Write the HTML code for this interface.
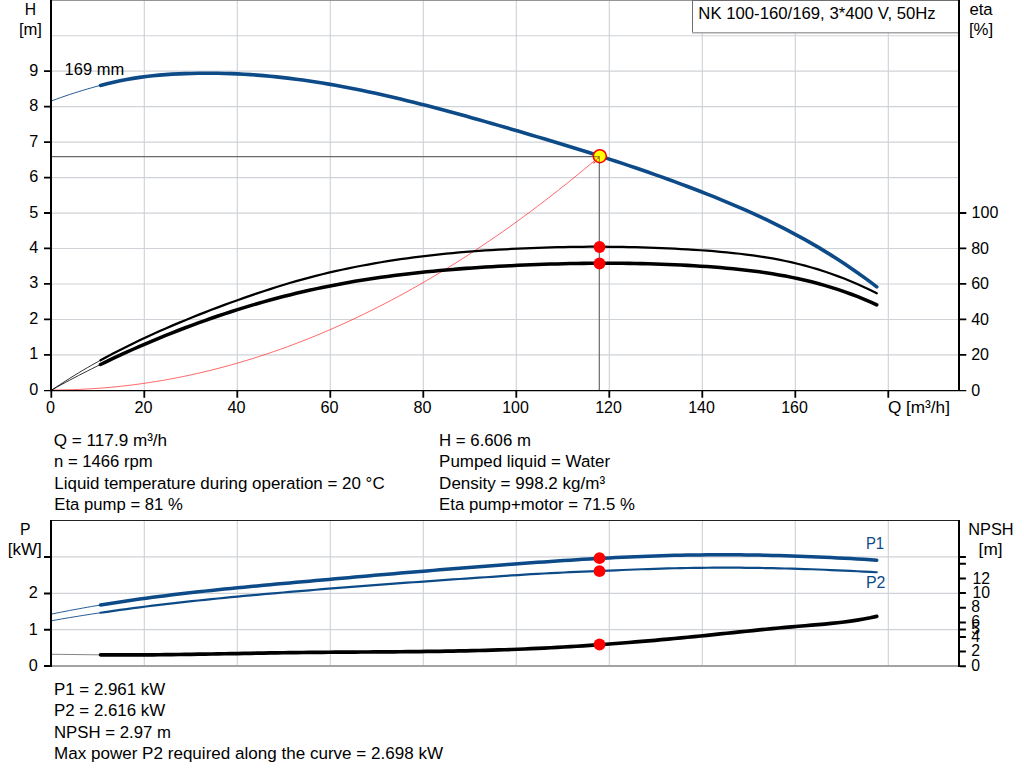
<!DOCTYPE html>
<html><head><meta charset="utf-8"><title>Pump curve</title>
<style>html,body{margin:0;padding:0;background:#fff;overflow:hidden}svg{display:block}text{white-space:pre;font-family:"Liberation Sans",sans-serif}</style></head>
<body>
<svg width="1024" height="781" viewBox="0 0 1024 781" font-family="Liberation Sans, sans-serif" font-size="17px" fill="#000">
<rect width="1024" height="781" fill="#fff"/>
<path d="M144.30,0V390 M237.30,0V390 M330.30,0V390 M423.30,0V390 M516.30,0V390 M609.30,0V390 M702.30,0V390 M795.30,0V390 M888.30,0V390 M52,354.93H959 M52,319.46H959 M52,283.99H959 M52,248.52H959 M52,213.05H959 M52,177.58H959 M52,142.11H959 M52,106.64H959 M52,71.17H959 M52,35.70H959" stroke="#cfd2d6" stroke-width="1.15" fill="none"/>
<path d="M52,156.6H599.3V390" stroke="#6a6a6a" stroke-width="1.2" fill="none"/>
<path d="M51.50,390.00 L58.44,389.96 L65.38,389.85 L72.32,389.66 L79.26,389.40 L86.20,389.06 L93.14,388.65 L100.08,388.16 L107.02,387.60 L113.96,386.97 L120.90,386.25 L127.84,385.47 L134.78,384.61 L141.72,383.67 L148.66,382.66 L155.60,381.57 L162.54,380.41 L169.48,379.18 L176.42,377.86 L183.36,376.48 L190.30,375.02 L197.24,373.48 L204.18,371.87 L211.12,370.19 L218.06,368.43 L225.00,366.59 L231.94,364.68 L238.88,362.70 L245.82,360.64 L252.76,358.50 L259.70,356.29 L266.64,354.01 L273.58,351.65 L280.52,349.21 L287.46,346.70 L294.40,344.12 L301.34,341.46 L308.28,338.73 L315.22,335.92 L322.16,333.03 L329.09,330.07 L336.03,327.04 L342.97,323.93 L349.91,320.75 L356.85,317.49 L363.79,314.16 L370.73,310.75 L377.67,307.26 L384.61,303.71 L391.55,300.07 L398.49,296.37 L405.43,292.58 L412.37,288.72 L419.31,284.79 L426.25,280.78 L433.19,276.70 L440.13,272.54 L447.07,268.31 L454.01,264.00 L460.95,259.62 L467.89,255.17 L474.83,250.63 L481.77,246.03 L488.71,241.35 L495.65,236.59 L502.59,231.76 L509.53,226.85 L516.47,221.87 L523.41,216.81 L530.35,211.68 L537.29,206.48 L544.23,201.19 L551.17,195.84 L558.11,190.41 L565.05,184.90 L571.99,179.32 L578.93,173.67 L585.87,167.94 L592.81,162.13 L599.75,156.25" stroke="#ff2020" stroke-width="0.8" fill="none" opacity="0.85"/>
<path d="M52.00,389.94 L56.41,386.96 L60.82,384.05 L65.23,381.19 L69.64,378.39 L74.05,375.64 L78.45,372.95 L82.86,370.31 L87.27,367.73 L91.68,365.19 L96.09,362.70 L100.50,360.25" stroke="#000" stroke-width="0.8" fill="none"/>
<path d="M100.50,360.25 L107.02,356.72 L113.55,353.28 L120.07,349.92 L126.59,346.65 L133.12,343.45 L139.64,340.32 L146.16,337.27 L152.68,334.27 L159.21,331.34 L165.73,328.46 L172.25,325.64 L178.78,322.88 L185.30,320.17 L191.82,317.51 L198.35,314.90 L204.87,312.34 L211.39,309.82 L217.92,307.35 L224.44,304.92 L230.96,302.54 L237.49,300.19 L244.01,297.88 L250.53,295.61 L257.05,293.39 L263.58,291.21 L270.10,289.08 L276.62,287.01 L283.15,285.00 L289.67,283.04 L296.19,281.15 L302.72,279.33 L309.24,277.57 L315.76,275.88 L322.29,274.25 L328.81,272.69 L335.33,271.18 L341.86,269.74 L348.38,268.35 L354.90,267.02 L361.42,265.75 L367.95,264.53 L374.47,263.36 L380.99,262.25 L387.52,261.19 L394.04,260.17 L400.56,259.21 L407.09,258.29 L413.61,257.42 L420.13,256.59 L426.66,255.81 L433.18,255.06 L439.70,254.36 L446.22,253.70 L452.75,253.07 L459.27,252.48 L465.79,251.93 L472.32,251.41 L478.84,250.92 L485.36,250.46 L491.89,250.04 L498.41,249.64 L504.93,249.27 L511.46,248.93 L517.98,248.61 L524.50,248.31 L531.03,248.04 L537.55,247.80 L544.07,247.58 L550.59,247.38 L557.12,247.21 L563.64,247.06 L570.16,246.94 L576.69,246.85 L583.21,246.78 L589.73,246.74 L596.26,246.72 L602.78,246.73 L609.30,246.77 L615.83,246.83 L622.35,246.92 L628.87,247.04 L635.39,247.19 L641.92,247.36 L648.44,247.57 L654.96,247.80 L661.49,248.06 L668.01,248.35 L674.53,248.67 L681.06,249.02 L687.58,249.40 L694.10,249.81 L700.63,250.25 L707.15,250.72 L713.67,251.23 L720.20,251.78 L726.72,252.38 L733.24,253.03 L739.76,253.75 L746.29,254.53 L752.81,255.39 L759.33,256.33 L765.86,257.35 L772.38,258.47 L778.90,259.69 L785.43,261.02 L791.95,262.45 L798.47,264.01 L805.00,265.69 L811.52,267.50 L818.04,269.43 L824.57,271.51 L831.09,273.72 L837.61,276.07 L844.13,278.57 L850.66,281.21 L857.18,284.01 L863.70,286.96 L870.23,290.07 L876.75,293.34" stroke="#000" stroke-width="2.25" fill="none" stroke-linecap="round"/>
<path d="M52.00,389.77 L56.41,387.34 L60.82,384.93 L65.23,382.56 L69.64,380.20 L74.05,377.88 L78.45,375.58 L82.86,373.31 L87.27,371.06 L91.68,368.84 L96.09,366.65 L100.50,364.48" stroke="#000" stroke-width="0.8" fill="none"/>
<path d="M100.50,364.48 L107.02,361.32 L113.55,358.22 L120.07,355.17 L126.59,352.18 L133.12,349.25 L139.64,346.37 L146.16,343.54 L152.68,340.77 L159.21,338.06 L165.73,335.39 L172.25,332.79 L178.78,330.23 L185.30,327.73 L191.82,325.29 L198.35,322.90 L204.87,320.56 L211.39,318.27 L217.92,316.03 L224.44,313.85 L230.96,311.72 L237.49,309.64 L244.01,307.61 L250.53,305.64 L257.05,303.71 L263.58,301.85 L270.10,300.03 L276.62,298.27 L283.15,296.56 L289.67,294.91 L296.19,293.32 L302.72,291.78 L309.24,290.29 L315.76,288.86 L322.29,287.49 L328.81,286.17 L335.33,284.89 L341.86,283.67 L348.38,282.50 L354.90,281.37 L361.42,280.29 L367.95,279.25 L374.47,278.26 L380.99,277.32 L387.52,276.41 L394.04,275.54 L400.56,274.72 L407.09,273.93 L413.61,273.18 L420.13,272.47 L426.66,271.79 L433.18,271.15 L439.70,270.53 L446.22,269.95 L452.75,269.41 L459.27,268.89 L465.79,268.39 L472.32,267.93 L478.84,267.49 L485.36,267.08 L491.89,266.69 L498.41,266.32 L504.93,265.97 L511.46,265.65 L517.98,265.34 L524.50,265.05 L531.03,264.79 L537.55,264.54 L544.07,264.31 L550.59,264.10 L557.12,263.91 L563.64,263.74 L570.16,263.60 L576.69,263.48 L583.21,263.38 L589.73,263.31 L596.26,263.26 L602.78,263.23 L609.30,263.23 L615.83,263.25 L622.35,263.31 L628.87,263.38 L635.39,263.49 L641.92,263.62 L648.44,263.78 L654.96,263.97 L661.49,264.19 L668.01,264.44 L674.53,264.72 L681.06,265.03 L687.58,265.37 L694.10,265.75 L700.63,266.15 L707.15,266.59 L713.67,267.07 L720.20,267.59 L726.72,268.15 L733.24,268.77 L739.76,269.43 L746.29,270.17 L752.81,270.96 L759.33,271.83 L765.86,272.77 L772.38,273.79 L778.90,274.89 L785.43,276.08 L791.95,277.37 L798.47,278.76 L805.00,280.25 L811.52,281.84 L818.04,283.55 L824.57,285.38 L831.09,287.33 L837.61,289.41 L844.13,291.62 L850.66,293.97 L857.18,296.46 L863.70,299.10 L870.23,301.88 L876.75,304.83" stroke="#000" stroke-width="3.55" fill="none" stroke-linecap="round"/>
<path d="M51.75,100.80 L56.18,99.19 L60.61,97.61 L65.05,96.08 L69.48,94.59 L73.91,93.14 L78.34,91.73 L82.77,90.37 L87.20,89.05 L91.64,87.78 L96.07,86.55 L100.50,85.38" stroke="#0d4a88" stroke-width="0.9" fill="none"/>
<path d="M100.50,85.38 L107.02,83.74 L113.55,82.22 L120.07,80.82 L126.59,79.54 L133.12,78.39 L139.64,77.37 L146.16,76.48 L152.68,75.73 L159.21,75.10 L165.73,74.59 L172.25,74.17 L178.78,73.85 L185.30,73.60 L191.82,73.43 L198.35,73.31 L204.87,73.25 L211.39,73.25 L217.92,73.32 L224.44,73.45 L230.96,73.65 L237.49,73.91 L244.01,74.24 L250.53,74.64 L257.05,75.11 L263.58,75.64 L270.10,76.23 L276.62,76.89 L283.15,77.60 L289.67,78.37 L296.19,79.20 L302.72,80.09 L309.24,81.03 L315.76,82.02 L322.29,83.06 L328.81,84.15 L335.33,85.30 L341.86,86.48 L348.38,87.72 L354.90,89.00 L361.42,90.32 L367.95,91.68 L374.47,93.08 L380.99,94.52 L387.52,96.00 L394.04,97.51 L400.56,99.06 L407.09,100.64 L413.61,102.25 L420.13,103.89 L426.66,105.56 L433.18,107.25 L439.70,108.98 L446.22,110.72 L452.75,112.49 L459.27,114.28 L465.79,116.08 L472.32,117.91 L478.84,119.75 L485.36,121.61 L491.89,123.48 L498.41,125.37 L504.93,127.26 L511.46,129.17 L517.98,131.08 L524.50,133.00 L531.03,134.93 L537.55,136.87 L544.07,138.82 L550.59,140.78 L557.12,142.75 L563.64,144.74 L570.16,146.74 L576.69,148.76 L583.21,150.79 L589.73,152.84 L596.26,154.91 L602.78,157.01 L609.30,159.12 L615.83,161.25 L622.35,163.41 L628.87,165.60 L635.39,167.80 L641.92,170.04 L648.44,172.30 L654.96,174.60 L661.49,176.92 L668.01,179.27 L674.53,181.66 L681.06,184.07 L687.58,186.53 L694.10,189.01 L700.63,191.54 L707.15,194.10 L713.67,196.70 L720.20,199.35 L726.72,202.05 L733.24,204.80 L739.76,207.60 L746.29,210.47 L752.81,213.40 L759.33,216.40 L765.86,219.47 L772.38,222.63 L778.90,225.86 L785.43,229.18 L791.95,232.58 L798.47,236.08 L805.00,239.68 L811.52,243.38 L818.04,247.18 L824.57,251.10 L831.09,255.13 L837.61,259.27 L844.13,263.54 L850.66,267.93 L857.18,272.46 L863.70,277.11 L870.23,281.91 L876.75,286.85" stroke="#0d4a88" stroke-width="3.6" fill="none" stroke-linecap="round"/>
<rect x="692" y="0" width="267" height="33" fill="#fff"/>
<path d="M692.5,0V33.3" stroke="#707070" stroke-width="1" shape-rendering="crispEdges"/>
<path d="M692,32.8H959" stroke="#a4a4a4" stroke-width="1.5"/>
<path d="M51,0.4H960" stroke="#8a8a8a" stroke-width="1"/>
<path d="M692,0.4H960" stroke="#6a6a6a" stroke-width="1"/>
<path d="M51,0V391 M959,0V391" stroke="#000" stroke-width="2" fill="none" shape-rendering="crispEdges"/>
<path d="M44,390.55H966.3" stroke="#000" stroke-width="1.35" fill="none"/>
<path d="M44,354.88H51 M44,319.41H51 M44,283.94H51 M44,248.47H51 M44,213.00H51 M44,177.53H51 M44,142.06H51 M44,106.59H51 M44,71.12H51 M960,354.88H966.3 M960,319.41H966.3 M960,283.94H966.3 M960,248.47H966.3 M960,213.00H966.3 M51.30,391V397.8 M144.30,391V397.8 M237.30,391V397.8 M330.30,391V397.8 M423.30,391V397.8 M516.30,391V397.8 M609.30,391V397.8 M702.30,391V397.8 M795.30,391V397.8 M888.30,391V397.8" stroke="#000" stroke-width="1.8" fill="none"/>
<text transform="translate(29.33,394.90) scale(0.9550,1)">0</text>
<text transform="translate(29.33,359.43) scale(0.9550,1)">1</text>
<text transform="translate(29.33,323.96) scale(0.9550,1)">2</text>
<text transform="translate(29.33,288.49) scale(0.9550,1)">3</text>
<text transform="translate(29.33,253.02) scale(0.9550,1)">4</text>
<text transform="translate(29.33,217.55) scale(0.9550,1)">5</text>
<text transform="translate(29.33,182.08) scale(0.9550,1)">6</text>
<text transform="translate(29.33,146.61) scale(0.9550,1)">7</text>
<text transform="translate(29.33,111.14) scale(0.9550,1)">8</text>
<text transform="translate(29.33,75.67) scale(0.9550,1)">9</text>
<text transform="translate(971.20,395.50) scale(0.9450,1)">0</text>
<text transform="translate(971.20,360.03) scale(0.9450,1)">20</text>
<text transform="translate(971.20,324.56) scale(0.9450,1)">40</text>
<text transform="translate(971.20,289.09) scale(0.9450,1)">60</text>
<text transform="translate(971.20,253.62) scale(0.9450,1)">80</text>
<text transform="translate(971.60,218.15) scale(0.9450,1)">100</text>
<text transform="translate(45.96,413.00) scale(0.9550,1)">0</text>
<text transform="translate(134.48,413.00) scale(0.9550,1)">20</text>
<text transform="translate(227.48,413.00) scale(0.9550,1)">40</text>
<text transform="translate(320.48,413.00) scale(0.9550,1)">60</text>
<text transform="translate(413.48,413.00) scale(0.9550,1)">80</text>
<text transform="translate(502.15,413.00) scale(0.9400,1)">100</text>
<text transform="translate(595.15,413.00) scale(0.9400,1)">120</text>
<text transform="translate(688.15,413.00) scale(0.9400,1)">140</text>
<text transform="translate(781.15,413.00) scale(0.9400,1)">160</text>
<text transform="translate(887.90,413.00) scale(1.0114,1)">Q [m³/h]</text>
<text transform="translate(24.80,14.70) scale(0.9228,1)">H</text>
<text transform="translate(18.90,34.60) scale(0.9788,1)">[m]</text>
<text transform="translate(969.40,14.60) scale(0.9831,1)">eta</text>
<text transform="translate(968.90,35.00) scale(0.9878,1)">[%]</text>
<text transform="translate(64.60,75.40) scale(0.9715,1)">169 mm</text>
<text transform="translate(698.30,18.80) scale(0.9843,1)">NK 100-160/169, 3*400 V, 50Hz</text>
<circle cx="599.5" cy="247" r="5.9" fill="#ff0000"/>
<circle cx="599.5" cy="263.5" r="5.9" fill="#ff0000"/>
<circle cx="599.8" cy="156.2" r="6.5" fill="#ffff00" stroke="#ff0000" stroke-width="1.6"/>
<path d="M593.5,163.3L599.5,156.8" stroke="#ff3000" stroke-width="1.1" fill="none" stroke-dasharray="2 1"/>
<path d="M593,156.6H599.3V163" stroke="#4a4a20" stroke-width="1.2" fill="none" opacity="0.6"/>
<text transform="translate(53.80,445.90) scale(1.0075,1)">Q = 117.9 m³/h</text>
<text transform="translate(54.05,467.00) scale(0.9811,1)">n = 1466 rpm</text>
<text transform="translate(54.30,488.70) scale(0.9971,1)">Liquid temperature during operation = 20 °C</text>
<text transform="translate(54.30,510.00) scale(0.9832,1)">Eta pump = 81 %</text>
<text transform="translate(439.10,445.90) scale(0.9871,1)">H = 6.606 m</text>
<text transform="translate(439.10,467.00) scale(0.9962,1)">Pumped liquid = Water</text>
<text transform="translate(439.10,488.70) scale(1.0021,1)">Density = 998.2 kg/m³</text>
<text transform="translate(439.10,510.00) scale(0.9882,1)">Eta pump+motor = 71.5 %</text>
<path d="M144.30,521V665 M237.30,521V665 M330.30,521V665 M423.30,521V665 M516.30,521V665 M609.30,521V665 M702.30,521V665 M795.30,521V665 M888.30,521V665 M52,629.6H959 M52,593.3H959 M52,556.9H959" stroke="#cfd2d6" stroke-width="1.15" fill="none"/>
<path d="M51,520.5H960" stroke="#222" stroke-width="1" shape-rendering="crispEdges"/>
<path d="M51,666.1H960" stroke="#858585" stroke-width="1.5"/>
<path d="M51.75,620.71 L56.18,619.92 L60.61,619.15 L65.05,618.39 L69.48,617.64 L73.91,616.91 L78.34,616.19 L82.77,615.47 L87.20,614.78 L91.64,614.09 L96.07,613.41 L100.50,612.75" stroke="#0d4a88" stroke-width="0.9" fill="none"/>
<path d="M100.50,612.75 L107.02,611.79 L113.55,610.85 L120.07,609.94 L126.59,609.05 L133.12,608.18 L139.64,607.33 L146.16,606.50 L152.68,605.68 L159.21,604.89 L165.73,604.12 L172.25,603.36 L178.78,602.62 L185.30,601.89 L191.82,601.18 L198.35,600.49 L204.87,599.80 L211.39,599.14 L217.92,598.48 L224.44,597.84 L230.96,597.20 L237.49,596.58 L244.01,595.97 L250.53,595.37 L257.05,594.78 L263.58,594.19 L270.10,593.62 L276.62,593.05 L283.15,592.48 L289.67,591.92 L296.19,591.37 L302.72,590.82 L309.24,590.28 L315.76,589.74 L322.29,589.21 L328.81,588.69 L335.33,588.17 L341.86,587.65 L348.38,587.14 L354.90,586.63 L361.42,586.13 L367.95,585.63 L374.47,585.13 L380.99,584.64 L387.52,584.16 L394.04,583.67 L400.56,583.19 L407.09,582.72 L413.61,582.25 L420.13,581.78 L426.66,581.31 L433.18,580.85 L439.70,580.38 L446.22,579.93 L452.75,579.47 L459.27,579.02 L465.79,578.57 L472.32,578.12 L478.84,577.67 L485.36,577.23 L491.89,576.78 L498.41,576.34 L504.93,575.90 L511.46,575.47 L517.98,575.04 L524.50,574.62 L531.03,574.22 L537.55,573.84 L544.07,573.48 L550.59,573.14 L557.12,572.82 L563.64,572.50 L570.16,572.21 L576.69,571.92 L583.21,571.64 L589.73,571.36 L596.26,571.09 L602.78,570.82 L609.30,570.55 L615.83,570.28 L622.35,570.01 L628.87,569.76 L635.39,569.50 L641.92,569.26 L648.44,569.03 L654.96,568.81 L661.49,568.61 L668.01,568.43 L674.53,568.26 L681.06,568.11 L687.58,567.99 L694.10,567.88 L700.63,567.80 L707.15,567.74 L713.67,567.69 L720.20,567.67 L726.72,567.67 L733.24,567.69 L739.76,567.72 L746.29,567.78 L752.81,567.85 L759.33,567.94 L765.86,568.05 L772.38,568.17 L778.90,568.32 L785.43,568.48 L791.95,568.65 L798.47,568.84 L805.00,569.05 L811.52,569.27 L818.04,569.51 L824.57,569.76 L831.09,570.03 L837.61,570.31 L844.13,570.60 L850.66,570.91 L857.18,571.23 L863.70,571.56 L870.23,571.90 L876.75,572.26" stroke="#0d4a88" stroke-width="2.2" fill="none" stroke-linecap="round"/>
<path d="M51.75,614.04 L56.18,613.14 L60.61,612.25 L65.05,611.38 L69.48,610.53 L73.91,609.70 L78.34,608.88 L82.77,608.07 L87.20,607.29 L91.64,606.52 L96.07,605.76 L100.50,605.02" stroke="#0d4a88" stroke-width="0.9" fill="none"/>
<path d="M100.50,605.02 L107.02,603.96 L113.55,602.93 L120.07,601.92 L126.59,600.95 L133.12,600.00 L139.64,599.08 L146.16,598.19 L152.68,597.32 L159.21,596.47 L165.73,595.65 L172.25,594.85 L178.78,594.07 L185.30,593.30 L191.82,592.56 L198.35,591.83 L204.87,591.12 L211.39,590.43 L217.92,589.75 L224.44,589.08 L230.96,588.42 L237.49,587.78 L244.01,587.15 L250.53,586.52 L257.05,585.90 L263.58,585.29 L270.10,584.69 L276.62,584.09 L283.15,583.50 L289.67,582.91 L296.19,582.32 L302.72,581.73 L309.24,581.14 L315.76,580.56 L322.29,579.97 L328.81,579.39 L335.33,578.81 L341.86,578.23 L348.38,577.65 L354.90,577.07 L361.42,576.50 L367.95,575.93 L374.47,575.36 L380.99,574.79 L387.52,574.23 L394.04,573.67 L400.56,573.11 L407.09,572.56 L413.61,572.01 L420.13,571.46 L426.66,570.91 L433.18,570.37 L439.70,569.84 L446.22,569.30 L452.75,568.77 L459.27,568.25 L465.79,567.73 L472.32,567.21 L478.84,566.70 L485.36,566.20 L491.89,565.69 L498.41,565.20 L504.93,564.71 L511.46,564.22 L517.98,563.74 L524.50,563.26 L531.03,562.80 L537.55,562.33 L544.07,561.88 L550.59,561.43 L557.12,561.00 L563.64,560.57 L570.16,560.15 L576.69,559.74 L583.21,559.35 L589.73,558.96 L596.26,558.59 L602.78,558.24 L609.30,557.89 L615.83,557.56 L622.35,557.25 L628.87,556.95 L635.39,556.67 L641.92,556.40 L648.44,556.15 L654.96,555.92 L661.49,555.71 L668.01,555.52 L674.53,555.35 L681.06,555.20 L687.58,555.07 L694.10,554.96 L700.63,554.88 L707.15,554.82 L713.67,554.78 L720.20,554.76 L726.72,554.77 L733.24,554.80 L739.76,554.85 L746.29,554.92 L752.81,555.01 L759.33,555.12 L765.86,555.26 L772.38,555.41 L778.90,555.58 L785.43,555.77 L791.95,555.97 L798.47,556.20 L805.00,556.44 L811.52,556.70 L818.04,556.98 L824.57,557.27 L831.09,557.58 L837.61,557.90 L844.13,558.24 L850.66,558.59 L857.18,558.95 L863.70,559.33 L870.23,559.72 L876.75,560.13" stroke="#0d4a88" stroke-width="3.5" fill="none" stroke-linecap="round"/>
<path d="M51.75,654.25 L100.5,654.86" stroke="#777" stroke-width="0.9" fill="none"/>
<path d="M100.50,654.86 L107.02,654.91 L113.55,654.93 L120.07,654.94 L126.59,654.94 L133.12,654.93 L139.64,654.90 L146.16,654.86 L152.68,654.81 L159.21,654.75 L165.73,654.68 L172.25,654.60 L178.78,654.51 L185.30,654.42 L191.82,654.32 L198.35,654.22 L204.87,654.11 L211.39,654.00 L217.92,653.89 L224.44,653.77 L230.96,653.65 L237.49,653.53 L244.01,653.42 L250.53,653.30 L257.05,653.18 L263.58,653.07 L270.10,652.97 L276.62,652.86 L283.15,652.76 L289.67,652.67 L296.19,652.59 L302.72,652.51 L309.24,652.44 L315.76,652.37 L322.29,652.31 L328.81,652.25 L335.33,652.20 L341.86,652.15 L348.38,652.11 L354.90,652.06 L361.42,652.02 L367.95,651.98 L374.47,651.93 L380.99,651.88 L387.52,651.84 L394.04,651.79 L400.56,651.73 L407.09,651.67 L413.61,651.61 L420.13,651.54 L426.66,651.46 L433.18,651.37 L439.70,651.28 L446.22,651.18 L452.75,651.07 L459.27,650.95 L465.79,650.81 L472.32,650.67 L478.84,650.51 L485.36,650.34 L491.89,650.15 L498.41,649.95 L504.93,649.74 L511.46,649.50 L517.98,649.25 L524.50,648.99 L531.03,648.70 L537.55,648.40 L544.07,648.08 L550.59,647.74 L557.12,647.39 L563.64,647.02 L570.16,646.64 L576.69,646.24 L583.21,645.82 L589.73,645.39 L596.26,644.94 L602.78,644.48 L609.30,644.01 L615.83,643.52 L622.35,643.01 L628.87,642.50 L635.39,641.96 L641.92,641.42 L648.44,640.86 L654.96,640.29 L661.49,639.71 L668.01,639.12 L674.53,638.51 L681.06,637.89 L687.58,637.26 L694.10,636.62 L700.63,635.97 L707.15,635.31 L713.67,634.64 L720.20,633.96 L726.72,633.28 L733.24,632.60 L739.76,631.92 L746.29,631.24 L752.81,630.57 L759.33,629.91 L765.86,629.26 L772.38,628.63 L778.90,628.01 L785.43,627.41 L791.95,626.83 L798.47,626.27 L805.00,625.74 L811.52,625.20 L818.04,624.65 L824.57,624.07 L831.09,623.45 L837.61,622.76 L844.13,621.99 L850.66,621.12 L857.18,620.14 L863.70,619.03 L870.23,617.78 L876.75,616.37" stroke="#000" stroke-width="3.7" fill="none" stroke-linecap="round"/>
<path d="M51,520V667 M959,520V667" stroke="#000" stroke-width="2" fill="none" shape-rendering="crispEdges"/>
<path d="M44,666.1H51 M44,629.7H51 M44,593.4H51 M44,557.0H51 M960,666.20H965.9 M960,651.50H965.9 M960,637.00H965.9 M960,629.60H965.9 M960,622.40H965.9 M960,607.80H965.9 M960,593.00H965.9 M960,578.50H965.9 M960,563.70H965.9 M960,557.00H965.9" stroke="#000" stroke-width="2" fill="none"/>
<text transform="translate(28.73,670.90) scale(0.9550,1)">0</text>
<text transform="translate(28.73,634.50) scale(0.9550,1)">1</text>
<text transform="translate(28.73,598.20) scale(0.9550,1)">2</text>
<text transform="translate(971.30,670.60) scale(0.9300,1)">0</text>
<text transform="translate(971.30,655.70) scale(0.9300,1)">2</text>
<text transform="translate(971.30,642.30) scale(0.9300,1)">4</text>
<text transform="translate(971.30,634.40) scale(0.9300,1)">5</text>
<text transform="translate(971.30,626.80) scale(0.9300,1)">6</text>
<text transform="translate(971.30,612.40) scale(0.9300,1)">8</text>
<text transform="translate(972.50,597.90) scale(0.9300,1)">10</text>
<text transform="translate(972.50,583.80) scale(0.9300,1)">12</text>
<text transform="translate(19.90,534.60) scale(0.9292,1)">P</text>
<text transform="translate(7.80,554.60) scale(1.0000,1)">[kW]</text>
<text transform="translate(968.30,534.60) scale(0.9597,1)">NPSH</text>
<text transform="translate(978.60,554.60) scale(1.0127,1)">[m]</text>
<text transform="translate(865.90,548.80) scale(0.8774,1)" fill="#0d4a88">P1</text>
<text transform="translate(865.90,588.00) scale(0.9375,1)" fill="#0d4a88">P2</text>
<circle cx="599.5" cy="558.2" r="5.9" fill="#ff0000"/>
<circle cx="599.5" cy="571.2" r="5.9" fill="#ff0000"/>
<circle cx="599.5" cy="644.5" r="5.9" fill="#ff0000"/>
<text transform="translate(54.00,695.00) scale(0.9933,1)">P1 = 2.961 kW</text>
<text transform="translate(54.00,715.90) scale(0.9933,1)">P2 = 2.616 kW</text>
<text transform="translate(54.00,737.50) scale(0.9865,1)">NPSH = 2.97 m</text>
<text transform="translate(54.00,758.80) scale(1.0041,1)">Max power P2 required along the curve = 2.698 kW</text>
</svg>
</body></html>
